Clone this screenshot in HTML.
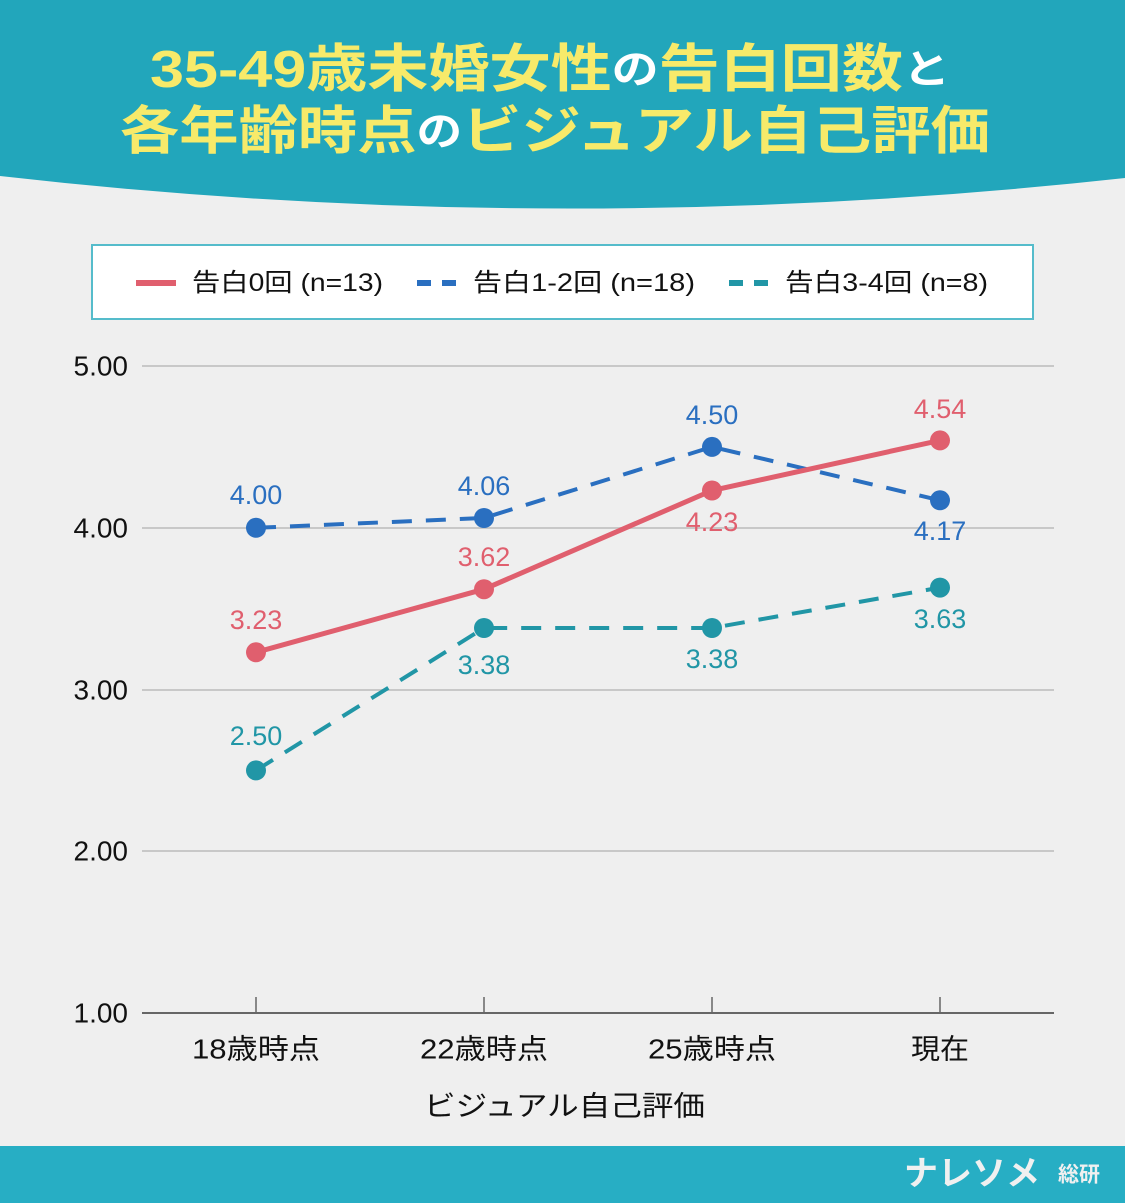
<!DOCTYPE html>
<html><head><meta charset="utf-8"><style>
html,body{margin:0;padding:0;background:#efefef}
svg{display:block}
text{font-family:"Liberation Sans","Noto Sans CJK JP",sans-serif}
</style></head><body>
<svg width="1125" height="1203" viewBox="0 0 1125 1203" xmlns="http://www.w3.org/2000/svg">
<rect width="1125" height="1203" fill="#efefef"/>
<path d="M0,0 H1125 V178 Q560,240 0,176 Z" fill="#22a6bb"/>
<g font-size="52" font-weight="bold" fill="#f7ea6a" dominant-baseline="central">
<text x="150" y="70" textLength="800" lengthAdjust="spacingAndGlyphs">35-49歳未婚女性<tspan fill="#ffffff" font-size="40">の</tspan>告白回数<tspan fill="#ffffff" font-size="40">と</tspan></text>
<text x="120" y="132" textLength="870" lengthAdjust="spacingAndGlyphs">各年齢時点<tspan fill="#ffffff" font-size="40">の</tspan>ビジュアル自己評価</text>
</g>
<rect x="92" y="245" width="941" height="74" fill="#fff" stroke="#55bccb" stroke-width="2"/>
<g font-size="25" fill="#111" dominant-baseline="central">
<line x1="136" y1="283" x2="176" y2="283" stroke="#e05f6e" stroke-width="6"/>
<text x="192" y="283" textLength="191" lengthAdjust="spacingAndGlyphs">告白0回 (n=13)</text>
<line x1="417" y1="283" x2="457" y2="283" stroke="#2a6fc0" stroke-width="6" stroke-dasharray="14,11"/>
<text x="473" y="283" textLength="222" lengthAdjust="spacingAndGlyphs">告白1-2回 (n=18)</text>
<line x1="729" y1="283" x2="769" y2="283" stroke="#2196a6" stroke-width="6" stroke-dasharray="14,11"/>
<text x="785" y="283" textLength="203" lengthAdjust="spacingAndGlyphs">告白3-4回 (n=8)</text>
</g>
<g stroke="#c8c8c8" stroke-width="2">
<line x1="142" y1="366" x2="1054" y2="366"/>
<line x1="142" y1="528" x2="1054" y2="528"/>
<line x1="142" y1="690" x2="1054" y2="690"/>
<line x1="142" y1="851" x2="1054" y2="851"/>
</g>
<line x1="142" y1="1013" x2="1054" y2="1013" stroke="#666" stroke-width="2"/>
<g stroke="#666" stroke-width="1.5">
<line x1="256" y1="997" x2="256" y2="1013"/><line x1="484" y1="997" x2="484" y2="1013"/>
<line x1="712" y1="997" x2="712" y2="1013"/><line x1="940" y1="997" x2="940" y2="1013"/>
</g>
<g font-size="28" fill="#111" text-anchor="end" dominant-baseline="central">
<text x="128" y="366">5.00</text><text x="128" y="528">4.00</text><text x="128" y="690">3.00</text><text x="128" y="851">2.00</text><text x="128" y="1013">1.00</text>
</g>
<g font-size="28" fill="#111" dominant-baseline="central">
<text x="192" y="1049" textLength="128" lengthAdjust="spacingAndGlyphs">18歳時点</text>
<text x="420" y="1049" textLength="128" lengthAdjust="spacingAndGlyphs">22歳時点</text>
<text x="648" y="1049" textLength="128" lengthAdjust="spacingAndGlyphs">25歳時点</text>
<text x="911" y="1049" textLength="58" lengthAdjust="spacingAndGlyphs">現在</text>
<text x="424" y="1106" textLength="281" lengthAdjust="spacingAndGlyphs">ビジュアル自己評価</text>
</g>
<polyline points="256,770.4 484,628 712,628 940,587.6" fill="none" stroke="#2196a6" stroke-width="4" stroke-dasharray="20,14"/>
<polyline points="256,527.8 484,518 712,446.9 940,500.3" fill="none" stroke="#2a6fc0" stroke-width="4" stroke-dasharray="20,14"/>
<polyline points="256,652.3 484,589.2 712,490.5 940,440.4" fill="none" stroke="#e05f6e" stroke-width="5"/>
<g fill="#2196a6"><circle cx="256" cy="770.4" r="10"/><circle cx="484" cy="628" r="10"/><circle cx="712" cy="628" r="10"/><circle cx="940" cy="587.6" r="10"/></g>
<g fill="#2a6fc0"><circle cx="256" cy="527.8" r="10"/><circle cx="484" cy="518" r="10"/><circle cx="712" cy="446.9" r="10"/><circle cx="940" cy="500.3" r="10"/></g>
<g fill="#e05f6e"><circle cx="256" cy="652.3" r="10"/><circle cx="484" cy="589.2" r="10"/><circle cx="712" cy="490.5" r="10"/><circle cx="940" cy="440.4" r="10"/></g>
<g font-size="27" text-anchor="middle" dominant-baseline="central">
<g fill="#e05f6e"><text x="256" y="620">3.23</text><text x="484" y="557">3.62</text><text x="712" y="522">4.23</text><text x="940" y="409">4.54</text></g>
<g fill="#2a6fc0"><text x="256" y="495">4.00</text><text x="484" y="486">4.06</text><text x="712" y="415">4.50</text><text x="940" y="531">4.17</text></g>
<g fill="#2196a6"><text x="256" y="736">2.50</text><text x="484" y="665">3.38</text><text x="712" y="659">3.38</text><text x="940" y="619">3.63</text></g>
</g>
<rect x="0" y="1146" width="1125" height="57" fill="#27aec4"/>
<text x="1040" y="1174" font-size="34" font-weight="bold" fill="#f0f0f0" text-anchor="end" dominant-baseline="central">ナレソメ</text>
<text x="1100" y="1175" font-size="21" font-weight="bold" fill="#f0f0f0" text-anchor="end" dominant-baseline="central">総研</text>
</svg>
</body></html>
